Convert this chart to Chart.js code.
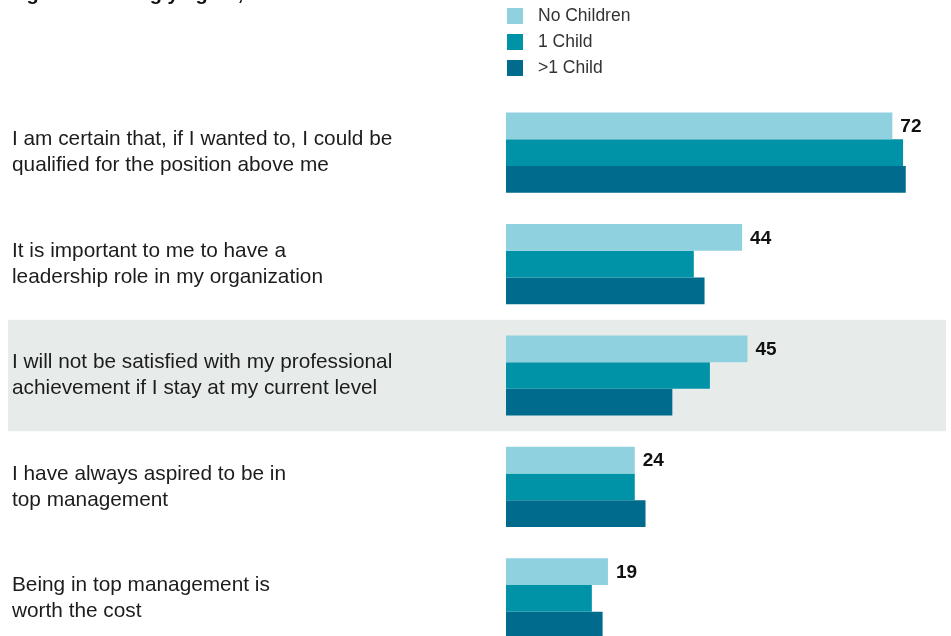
<!DOCTYPE html>
<html>
<head>
<meta charset="utf-8">
<script src="https://cdn.jsdelivr.net/npm/chart.js@4.4.1/dist/chart.umd.min.js"></script>
<style>
   html, body { margin: 0; padding: 0; background: #fff; overflow: hidden; }
   #wrap { position: relative; width: 951px; height: 700px; }
</style>
</head>
<body>
<div id="wrap"><canvas id="chart-ambition"></canvas></div>
<script>

const statements = [
   ['I am certain that, if I wanted to, I could be', 'qualified for the position above me'],
   ['It is important to me to have a', 'leadership role in my organization'],
   ['I will not be satisfied with my professional', 'achievement if I stay at my current level'],
   ['I have always aspired to be in', 'top management'],
   ['Being in top management is', 'worth the cost']
];

const seriesNames = ['No Children', '1 Child', '>1 Child'];
const noChildren = [72, 44, 45, 24, 19];
const oneChild = [74, 35, 38, 24, 16];
const moreChildren = [74.5, 37, 31, 26, 18];

const seriesColors = ['#8fd1df', '#0093a7', '#006b8d'];
const highlightRow = 2;
const titleText = 'Agree or strongly agree, %';

let ambitionCanvas = document.getElementById('chart-ambition');

// grey band behind the highlighted statement
const bandPlugin = {
   id: 'band',
   beforeDraw(chart) {
      const y = chart.scales.y;
      const half = Math.abs(y.getPixelForValue(1) - y.getPixelForValue(0)) / 2;
      const mid = y.getPixelForValue(highlightRow);
      const ctx = chart.ctx;
      ctx.save();
      ctx.fillStyle = '#e7eceb';
      ctx.fillRect(8, mid - half, 938, half * 2);
      ctx.restore();
   }
};

// title, stacked legend and value labels on the first series
const textPlugin = {
   id: 'texts',
   afterDatasetsDraw(chart) {
      const ctx = chart.ctx;
      ctx.save();

      ctx.fillStyle = '#111';
      ctx.font = 'bold 20px "Liberation Sans", Arial, sans-serif';
      ctx.textAlign = 'left';
      ctx.textBaseline = 'alphabetic';
      ctx.fillText(titleText, 12, -0.5);

      ctx.font = '17.5px "Liberation Sans", Arial, sans-serif';
      ctx.textBaseline = 'middle';
      chart.data.datasets.forEach((ds, i) => {
         const top = 8 + i * 26;
         ctx.fillStyle = ds.backgroundColor;
         ctx.fillRect(507, top, 16, 16);
         ctx.fillStyle = '#333';
         ctx.fillText(ds.label, 538, top + 8.5);
      });

      const meta = chart.getDatasetMeta(0);
      ctx.font = 'bold 19px "Liberation Sans", Arial, sans-serif';
      ctx.fillStyle = '#111';
      meta.data.forEach((bar, i) => {
         ctx.fillText(chart.data.datasets[0].data[i], bar.x + 8, bar.y + 1);
      });
      ctx.restore();
   }
};

let ambitionData = {
   labels: statements,
   datasets: [
      { label: seriesNames[0], data: noChildren, backgroundColor: seriesColors[0] },
      { label: seriesNames[1], data: oneChild, backgroundColor: seriesColors[1] },
      { label: seriesNames[2], data: moreChildren, backgroundColor: seriesColors[2] }
   ]
};

let ambitionOptions = {
   indexAxis: 'y',
   responsive: true,
   maintainAspectRatio: false,
   animation: false,
   categoryPercentage: 0.72,
   barPercentage: 1,
   borderWidth: 0,
   layout: {
      padding: { top: 97, bottom: 46, left: 12, right: 5 }
   },
   scales: {
      x: {
         display: false,
         min: 0,
         max: 82
      },
      y: {
         grid: { display: false },
         border: { display: false },
         afterFit(scale) {
            scale.width = 494;
         },
         ticks: {
            crossAlign: 'far',
            padding: 0,
            color: '#1c1c1c',
            font: { family: '"Liberation Sans", Arial, sans-serif', size: 20.8, lineHeight: 1.25 }
         }
      }
   },
   plugins: {
      legend: { display: false },
      tooltip: { enabled: false }
   }
};

let ambitionChart = new Chart(ambitionCanvas, {
   type: 'bar',
   data: ambitionData,
   options: ambitionOptions,
   plugins: [bandPlugin, textPlugin]
});
</script>
</body>
</html>
